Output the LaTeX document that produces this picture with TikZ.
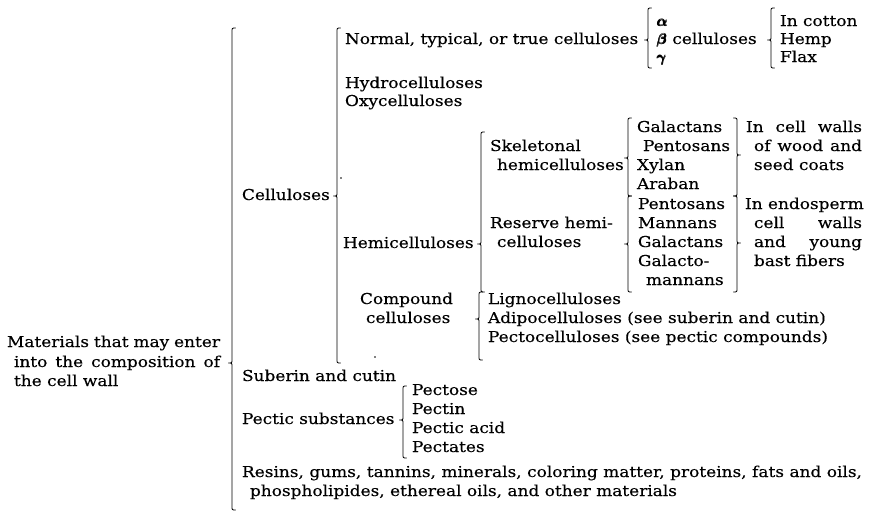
\documentclass[tikz,border=0pt]{standalone}
\usepackage{amsmath}
\usepackage{fontspec}
\setmainfont{DejaVu Serif}[FakeStretch=1.13,FakeBold=0.3]
\tikzset{
  tx/.style={anchor=base west, inner sep=0pt, outer sep=0pt, font=\fontsize{15}{17}\selectfont},
  brc/.style={line width=0.85pt, line cap=round, line join=round}
}
% left brace: x, top, tip, bottom (y downwards)
\newcommand\BrL[4]{\draw[brc] (#1+3.5,#2) .. controls (#1,#2) .. (#1,#2+4) -- (#1,#3-4) .. controls (#1,#3) .. (#1-3.5,#3) .. controls (#1,#3) .. (#1,#3+4) -- (#1,#4-4) .. controls (#1,#4) .. (#1+3.5,#4);}
\newcommand\BrR[4]{\draw[brc] (#1-3.5,#2) .. controls (#1,#2) .. (#1,#2+4) -- (#1,#3-4) .. controls (#1,#3) .. (#1+3.5,#3) .. controls (#1,#3) .. (#1,#3+4) -- (#1,#4-4) .. controls (#1,#4) .. (#1-3.5,#4);}
\begin{document}
\begin{tikzpicture}[x=1pt,y=-1pt]
\useasboundingbox (0,0) rectangle (871,512);
% level 0
\node[tx] (m1) at (7,347) {\makebox[213pt][s]{Materials that may enter}};
\node[tx] (m2) at (14,367) {\makebox[206pt][s]{into the composition of}};
\node[tx] (m3) at (14,386) {the cell wall};
\BrL{232}{28}{363}{510}
% level 1
\node[tx] (cel) at (242,200) {Celluloses};
\BrL{337}{28}{196}{363}
\node[tx] (sub) at (242,381) {Suberin and cutin};
\node[tx] (pec) at (242,424) {Pectic substances};
\node[tx] (res1) at (242,477) {\makebox[620pt][s]{Resins, gums, tannins, minerals, coloring matter, proteins, fats and oils,}};
\node[tx] (res2) at (250,496) {phospholipides, ethereal oils, and other materials};
% pectic
\BrL{403}{386}{420}{458}
\node[tx] (p1) at (412,395) {Pectose};
\node[tx] (p2) at (412,414) {Pectin};
\node[tx] (p3) at (412,433) {Pectic acid};
\node[tx] (p4) at (412,452) {Pectates};
% level 2
\node[tx] (nor) at (345,44) {Normal, typical, or true celluloses};
\node[tx] (hyd) at (345,88) {Hydrocelluloses};
\node[tx] (oxy) at (345,106) {Oxycelluloses};
\node[tx] (hem) at (343,248) {Hemicelluloses};
\node[tx] (com1) at (360,304) {Compound};
\node[tx] (com2) at (366,323) {celluloses};
% alpha beta gamma
\BrL{648}{8}{40}{68}
\node[tx] (ga) at (657,26) {$\pmb{\boldsymbol{\alpha}}$};
\node[tx] (gb) at (657,44) {$\pmb{\boldsymbol{\beta}}$ celluloses};
\node[tx] (gg) at (657,62) {$\pmb{\boldsymbol{\gamma}}$};
\BrL{771}{8}{40}{68}
\node[tx] (c1) at (780,26) {In cotton};
\node[tx] (c2) at (780,44) {Hemp};
\node[tx] (c3) at (780,62) {Flax};
% hemicelluloses
\BrL{481}{132}{244}{292}
\node[tx] (sk1) at (490,151) {Skeletonal};
\node[tx] (sk2) at (497,170) {hemicelluloses};
\node[tx] (rv1) at (490,228) {Reserve hemi-};
\node[tx] (rv2) at (497,247) {celluloses};
\BrL{628}{118}{158}{196}
\node[tx] (s1) at (637,132) {Galactans};
\node[tx] (s2) at (643,151) {Pentosans};
\node[tx] (s3) at (637,170) {Xylan};
\node[tx] (s4) at (637,189) {Araban};
\BrR{737}{118}{155}{196}
\node[tx] (w1) at (746,132) {\makebox[116pt][s]{In cell walls}};
\node[tx] (w2) at (754,151) {\makebox[108pt][s]{of wood and}};
\node[tx] (w3) at (754,170) {seed coats};
\BrL{628}{196}{244}{292}
\node[tx] (r1) at (638,209) {Pentosans};
\node[tx] (r2) at (638,228) {Mannans};
\node[tx] (r3) at (638,247) {Galactans};
\node[tx] (r4) at (638,266) {Galacto-};
\node[tx] (r5) at (646,285) {mannans};
\BrR{737}{196}{243}{292}
\node[tx] (e1) at (745,209) {In endosperm};
\node[tx] (e2) at (754,228) {\makebox[108pt][s]{cell walls}};
\node[tx] (e3) at (754,247) {\makebox[108pt][s]{and young}};
\node[tx] (e4) at (754,266) {bast fibers};
% compound
\BrL{479}{292}{319}{360}
\node[tx] (l1) at (488,304) {Lignocelluloses};
\node[tx] (l2) at (488,323) {Adipocelluloses (see suberin and cutin)};
\node[tx] (l3) at (488,342) {Pectocelluloses (see pectic compounds)};
% stray dots
\fill (341,178) circle (0.8pt);
\fill (375,357) circle (0.8pt);
\end{tikzpicture}
\end{document}
